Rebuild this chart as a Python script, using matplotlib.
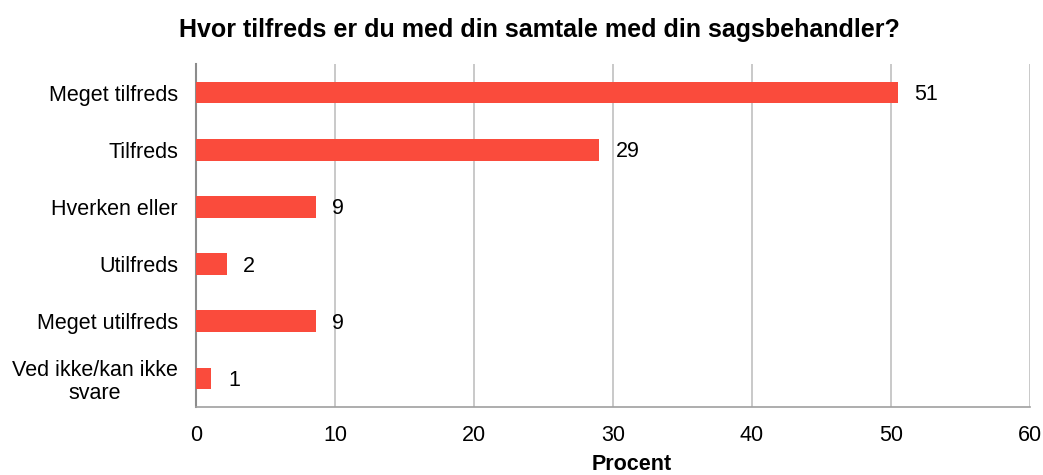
import matplotlib
matplotlib.use("Agg")
import matplotlib.pyplot as plt

categories = ["Meget tilfreds", "Tilfreds", "Hverken eller", "Utilfreds",
              "Meget utilfreds", "Ved ikke/kan ikke\nsvare"]
values = [50.5, 29.0, 8.6, 2.2, 8.6, 1.1]
value_labels = ["51", "29", "9", "2", "9", "1"]
xticks = [0, 10, 20, 30, 40, 50, 60]

plt.rcParams['font.family'] = ['Liberation Sans', 'DejaVu Sans']

fig = plt.figure(figsize=(10.43, 4.75), dpi=100)
ax = fig.add_axes([196/1043, 1-407/475, (1030-196)/1043, (407-64)/475])

ypos = list(range(len(categories)))
bars = ax.barh(ypos, values, height=0.38, color="#FA4B3C", zorder=3)
for b, lab in zip(bars, value_labels):
    ax.annotate(lab, xy=(b.get_width(), b.get_y() + b.get_height()/2),
                xytext=(12, -1.5), textcoords="offset points",
                ha="left", va="center", fontsize=15.5, color="#000000")

ax.set_ylim(len(categories) - 0.5, -0.5)
ax.set_xlim(0, 60)
ax.set_xticks(xticks)
ax.set_xticklabels([str(t) for t in xticks])
ax.set_yticks(ypos)
ax.set_yticklabels(categories)
for t in ax.get_yticklabels():
    t.set_multialignment("center")
    t.set_linespacing(1.1)
ax.tick_params(axis="both", length=0, labelsize=15.5, colors="#000000")
ax.tick_params(axis="y", pad=13)
ax.tick_params(axis="x", pad=13)

ax.grid(axis="x", color="#c0c0c0", linewidth=1.2, zorder=0)
for s in ["top", "right"]:
    ax.spines[s].set_visible(False)
ax.spines["left"].set_color("#8c8c8c")
ax.spines["left"].set_linewidth(1.5)
ax.spines["bottom"].set_color("#a0a0a0")
ax.spines["bottom"].set_linewidth(1.2)

ax.set_xlabel("Procent", fontsize=15.5, fontweight="bold")
ax.xaxis.set_label_coords((632 - 196) / (1030 - 196), -(465 - 407) / (407 - 64))
ax.xaxis.label.set_va("center")
fig.suptitle("Hvor tilfreds er du med din samtale med din sagsbehandler?",
             fontsize=18, fontweight="bold", x=539/1043, y=1-30/475, va="center")

fig.savefig("out.png", dpi=100, facecolor="white")
